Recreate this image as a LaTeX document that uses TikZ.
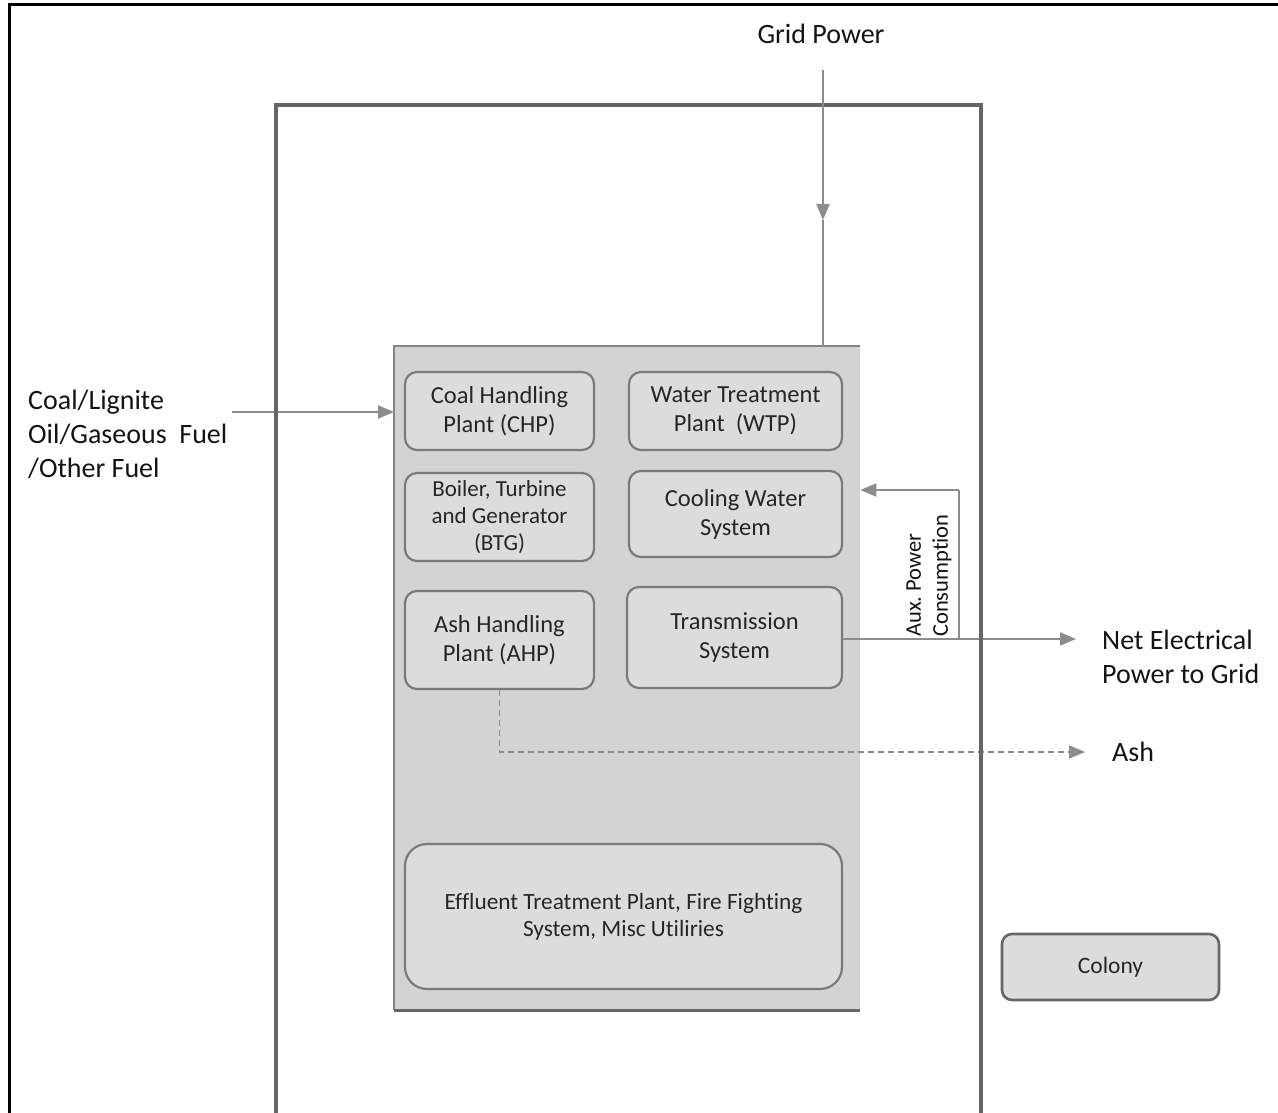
\documentclass[tikz,border=0pt]{standalone}
\usepackage{fontspec}
\setmainfont{Carlito}[Ligatures=CommonOff]
\usetikzlibrary{arrows.meta}
\definecolor{txt}{HTML}{141414}
\definecolor{boxtxt}{HTML}{262626}
\definecolor{boxfill}{HTML}{DCDCDC}
\definecolor{boxline}{HTML}{7A7A7A}
\definecolor{plantfill}{HTML}{D3D3D3}
\definecolor{plantline}{HTML}{858585}
\definecolor{frameline}{HTML}{666666}
\definecolor{arrowc}{HTML}{8C8C8C}
\begin{document}
\begin{tikzpicture}[x=1pt,y=-1pt,
  unit/.style={draw=boxline, line width=2.2pt, fill=boxfill, rounded corners=12pt,
    text=boxtxt, align=center, inner sep=0pt, font=\fontsize{24.5}{29}\selectfont},
  flow/.style={draw=arrowc, line width=2.2pt, -{Triangle[length=16pt,width=13pt]}},
  plainflow/.style={draw=arrowc, line width=2.2pt},
  lbl/.style={text=txt, font=\fontsize{28}{34}\selectfont, inner sep=0pt}]
\useasboundingbox (0,0) rectangle (1278,1113);
\fill[white] (0,0) rectangle (1278,1113);

% plant container
\node[fill=plantfill, minimum width=466pt, minimum height=664pt, inner sep=0pt, anchor=north west] (plant) at (394,346) {};
\draw[plantline, line width=2pt] (plant.south west) -- (plant.north west) -- (plant.north east);
\draw[frameline, line width=3pt] (plant.south west) -- (plant.south east);

% units
\node[unit, minimum width=189pt, minimum height=78pt] (chp) at (499.5,411) {Coal Handling\\Plant (CHP)};
\node[unit, minimum width=213pt, minimum height=78pt] (wtp) at (735.5,411) {Water Treatment\\Plant~~(WTP)};
\node[unit, font=\fontsize{23}{27}\selectfont, minimum width=189pt, minimum height=88pt] (btg) at (499.5,517) {Boiler, Turbine\\and Generator\\(BTG)};
\node[unit, minimum width=213pt, minimum height=86pt] (cws) at (735.5,514) {Cooling Water\\System};
\node[unit, minimum width=189pt, minimum height=98pt] (ahp) at (499.5,640) {Ash Handling\\Plant (AHP)};
\node[unit, minimum width=215pt, minimum height=101pt] (ts) at (734.5,637.5) {Transmission\\System};
\node[unit, rounded corners=22pt, font=\fontsize{23.3}{27}\selectfont, minimum width=437pt, minimum height=145pt] (etp) at (623.5,916.5) {Effluent Treatment Plant, Fire Fighting\\System, Misc Utiliries};
\node[unit, draw=frameline, line width=2.6pt, rounded corners=10pt, font=\fontsize{23.5}{27}\selectfont, minimum width=217pt, minimum height=66pt] (colony) at (1110.5,967) {Colony};

% labels
\node[lbl] (grid) at (821,34) {Grid Power};
\node[lbl, align=left, anchor=west] (fuel) at (28,434) {Coal/Lignite\\Oil/Gaseous~~Fuel\\/Other Fuel};
\node[lbl, align=left, anchor=west] (net) at (1102,657) {Net Electrical\\Power to Grid};
\node[lbl, anchor=west] (ash) at (1112,752) {Ash};
\node[rotate=90, anchor=west, align=left, font=\fontsize{22.5}{27}\selectfont, text=txt, inner sep=0pt] (aux) at (929,637) {Aux.\ Power\\Consumption};

% coordinates
\coordinate (fstart) at (232,412);
\coordinate (netend) at (1076,639);
\coordinate (auxc) at (959,639);
\coordinate (auxtop) at (959,490);
\coordinate (ashend) at (1085,752);
\coordinate (gtop) at (823,70);
\coordinate (gmid) at (823,220);

% connectors
\draw[flow] (fstart) -- (fstart -| plant.west);
\draw[flow] (ts.east |- netend) -- (netend);
\draw[plainflow, line width=1.6pt] (auxc) -- (auxtop);
\draw[flow] (auxtop) -- (plant.east |- auxtop);
\draw[arrowc, line width=1.6pt, dash pattern=on 6pt off 4pt, -{Triangle[length=16pt,width=13pt]}]
  (ahp.south) -- (ahp.south |- ashend) -- (ashend);

% frames
\draw[black, line width=3pt] (9,1125) -- (9,5) -- (1290,5);
\draw[frameline, line width=4pt] (276,1125) -- (276,105) -- (981,105) -- (981,1125);

% grid power feed
\draw[flow] (gtop) -- (gmid);
\draw[plainflow] (gmid) -- (gtop |- plant.north);
\end{tikzpicture}
\end{document}
